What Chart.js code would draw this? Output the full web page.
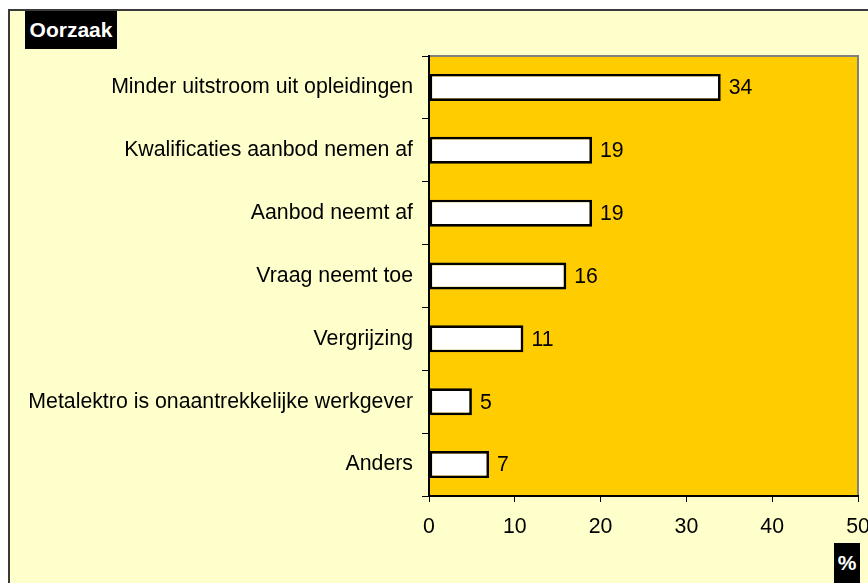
<!DOCTYPE html>
<html>
<head>
<meta charset="utf-8">
<script src="https://cdn.jsdelivr.net/npm/chart.js@4.4.1/dist/chart.umd.min.js"></script>
<style>
  html, body { margin: 0; padding: 0; background: #ffffff; }
  #wrap { position: relative; width: 868px; height: 583px; overflow: hidden; }
  canvas { position: absolute; left: 0; top: 0; }
  .tag { position: absolute; background: #000; color: #fff; font: bold 21px "Liberation Sans", Arial, sans-serif;
         display: flex; align-items: center; justify-content: center; }
</style>
</head>
<body>
<div id="wrap">
  <canvas id="c" width="868" height="583"></canvas>
  <div class="tag" style="left:25px;top:11px;width:92px;height:38px;">Oorzaak</div>
  <div class="tag" style="left:834px;top:543px;width:26px;height:40px;">%</div>
</div>
<script>
const categories = [
  'Minder uitstroom uit opleidingen',
  'Kwalificaties aanbod nemen af',
  'Aanbod neemt af',
  'Vraag neemt toe',
  'Vergrijzing',
  'Metalektro is onaantrekkelijke werkgever',
  'Anders'
];
const values = [34, 19, 19, 16, 11, 5, 7];
const xMin = 0, xMax = 50, xStep = 10;

const FONT = '"Liberation Sans", Arial, sans-serif';
const FS = 21.3;

const framePlugin = {
  id: 'frame',
  beforeDraw(chart) {
    const ctx = chart.ctx, a = chart.chartArea;
    ctx.save();
    ctx.fillStyle = '#ffffff';
    ctx.fillRect(0, 0, chart.width, chart.height);
    ctx.fillStyle = '#FFFFCC';
    ctx.fillRect(9, 10, chart.width, chart.height);
    ctx.strokeStyle = '#3a3a3a';
    ctx.lineWidth = 2;
    ctx.beginPath();
    ctx.moveTo(9, chart.height); ctx.lineTo(9, 10); ctx.lineTo(chart.width, 10);
    ctx.stroke();
    ctx.fillStyle = '#FFCC00';
    ctx.fillRect(a.left, a.top, a.right - a.left, a.bottom - a.top);
    ctx.strokeStyle = '#808080';
    ctx.lineWidth = 2;
    ctx.beginPath();
    ctx.moveTo(a.left, a.top); ctx.lineTo(a.right, a.top); ctx.lineTo(a.right, a.bottom);
    ctx.stroke();
    ctx.restore();
  },
  afterDatasetsDraw(chart) {
    const ctx = chart.ctx;
    const meta = chart.getDatasetMeta(0);
    ctx.save();
    ctx.fillStyle = '#000';
    ctx.font = FS + 'px ' + FONT;
    ctx.textAlign = 'left';
    ctx.textBaseline = 'middle';
    meta.data.forEach((bar, i) => {
      ctx.fillText(String(values[i]), bar.x + 8, bar.y + 1);
    });
    ctx.restore();
  }
};

new Chart(document.getElementById('c'), {
  type: 'bar',
  data: {
    labels: categories,
    datasets: [{
      data: values,
      backgroundColor: '#ffffff',
      borderColor: '#000000',
      borderWidth: 2.7,
      borderSkipped: false,
      barPercentage: 0.43,
      categoryPercentage: 1.0
    }]
  },
  options: {
    indexAxis: 'y',
    responsive: false,
    animation: false,
    devicePixelRatio: 1,
    layout: { padding: { top: 56, left: 0, right: 10, bottom: 0 } },
    plugins: { legend: { display: false }, tooltip: { enabled: false }, title: { display: false } },
    scales: {
      y: {
        type: 'category',
        offset: true,
        afterFit(scale) { scale.width = 429; scale.paddingTop = 0; scale.paddingBottom = 0; },
        border: { display: true, color: '#000', width: 2 },
        grid: { drawOnChartArea: false, drawTicks: true, tickLength: 7, color: '#000', offset: true, lineWidth: 1 },
        ticks: { color: '#000', font: { family: FONT, size: FS }, padding: 9, autoSkip: false }
      },
      x: {
        type: 'linear',
        min: xMin, max: xMax,
        afterFit(scale) { scale.height = 87; scale.paddingLeft = 0; scale.paddingRight = 0; },
        border: { display: true, color: '#000', width: 2 },
        grid: { drawOnChartArea: false, drawTicks: true, tickLength: 6, color: '#000', lineWidth: 1 },
        ticks: { stepSize: xStep, color: '#000', font: { family: FONT, size: FS }, padding: 12, maxRotation: 0 }
      }
    }
  },
  plugins: [framePlugin]
});
</script>
</body>
</html>
